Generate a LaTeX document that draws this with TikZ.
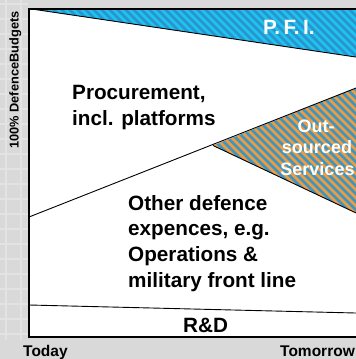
\documentclass[tikz,border=0pt]{standalone}
\usepackage{fontspec}
\setmainfont{Liberation Sans}
\definecolor{bggray}{HTML}{D9D9D9}
\definecolor{gridgray}{HTML}{E3E3E3}
\definecolor{pfiblue}{HTML}{2B95CB}
\definecolor{pficyan}{HTML}{1EC3F2}
\definecolor{osblue}{HTML}{3996C6}
\definecolor{osorange}{HTML}{F29B3C}
\begin{document}
\begin{tikzpicture}[x=1pt,y=-1pt,
  bigtxt/.style={inner sep=0pt, font=\bfseries\fontsize{20.7}{24}\selectfont},
  ostxt/.style={inner sep=0pt, text=white, font=\bfseries\fontsize{18}{21}\selectfont},
  axtxt/.style={inner sep=0pt, font=\bfseries\fontsize{15.5}{18}\selectfont},
  sidetxt/.style={inner sep=0pt, font=\bfseries\fontsize{12.8}{15}\selectfont},
  divline/.style={draw=black, line width=0.9pt},
  boxline/.style={draw=black, line width=1.3pt}]
\useasboundingbox (0,0) rectangle (356,359);
\clip (0,0) rectangle (356,359);
\fill[bggray] (0,0) rectangle (356,359);
\foreach \y in {4,19,...,340} \draw[gridgray, line width=1.5pt] (0,\y) -- (28,\y);
\foreach \x in {6,21} \draw[gridgray, line width=1.5pt] (\x,0) -- (\x,340);
% coordinates
\coordinate (TL) at (29,9);
\coordinate (BL) at (29,337);
\coordinate (TR) at (372,9);
\coordinate (BR) at (372,337);
\coordinate (pfiA) at (35,9.5);
\coordinate (pfiB) at (372,59.4);
\coordinate (prA) at (29,217);
\coordinate (prB) at (372,81.7);
\coordinate (osA) at (213,145.5);
\coordinate (osB) at (372,220.5);
\coordinate (rdA) at (29,305);
\coordinate (rdB) at (372,313.4);
% white box
\fill[white] (TL) rectangle (BR);
% PFI region
\begin{scope}
  \clip (pfiA) -- (TR) -- (pfiB) -- cycle;
  \fill[pfiblue] (0,0) rectangle (372,70);
  \foreach \x in {-72,-64,...,380} \draw[pficyan, line width=2.8pt] (\x,0) -- ++(75,75);
\end{scope}
\draw[divline] (pfiA) -- (pfiB);
% outsourced region
\begin{scope}
  \clip (osA) -- (prB) -- (osB) -- cycle;
  \fill[osblue] (200,70) rectangle (372,230);
  \foreach \x in {190,198,...,550} \draw[osorange, line width=2.8pt] (\x,240) -- ++(-180,-180);
\end{scope}
\draw[divline] (prA) -- (prB);
\draw[divline] (osA) -- (osB);
\draw[divline] (rdA) -- (rdB);
% box border
\draw[boxline] (TL) rectangle (BR);
% texts
\node[bigtxt, text=white, anchor=base west] (pfi) at (263,34) {P.\,F.\,I.};
\node[bigtxt, anchor=base west] (pr1) at (72,99) {Procurement,};
\node[bigtxt, anchor=base west] (pr2) at (72,125.5) {incl. platforms};
\node[ostxt, anchor=base] (os1) at (316,132) {Out-};
\node[ostxt, anchor=base] (os2) at (317,153.5) {sourced};
\node[ostxt, anchor=base] (os3) at (317.5,175) {Services};
\node[bigtxt, anchor=base west] (ot1) at (128,210) {Other defence};
\node[bigtxt, anchor=base west] (ot2) at (128,235.7) {expences, e.g.};
\node[bigtxt, anchor=base west] (ot3) at (128,261.4) {Operations \&};
\node[bigtxt, anchor=base west] (ot4) at (128,287) {military front line};
\node[bigtxt, anchor=base west] (rd) at (183,332) {R\&D};
\node[axtxt, anchor=base west] (today) at (23,356.5) {Today};
\node[axtxt, anchor=base east] (tomorrow) at (355,356.5) {Tomorrow};
\node[sidetxt, anchor=base, rotate=90] (side) at (18.5,80) {100\% DefenceBudgets};
\end{tikzpicture}
\end{document}
